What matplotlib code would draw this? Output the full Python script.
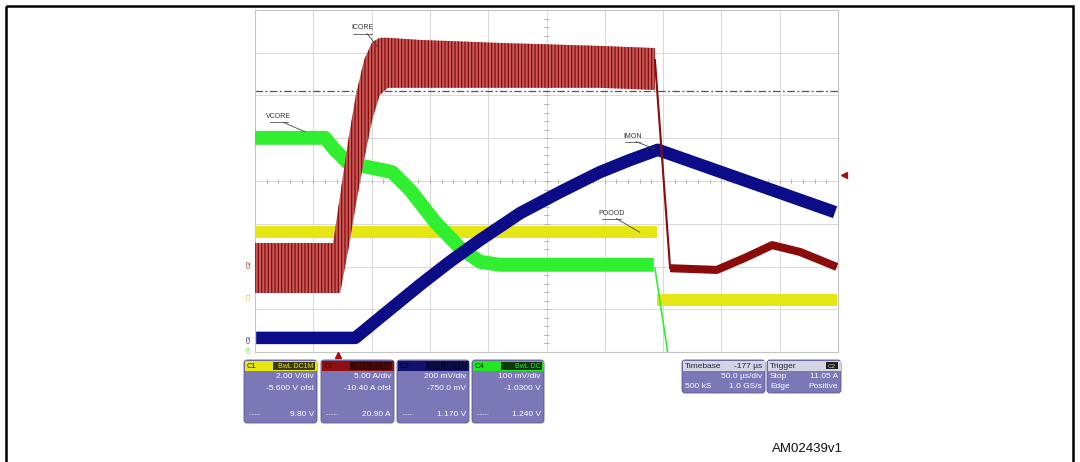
import numpy as np
import matplotlib.pyplot as plt
from matplotlib.patches import FancyBboxPatch, Rectangle

plt.rcParams['font.family'] = ['Liberation Sans', 'DejaVu Sans']
plt.rcParams['hatch.linewidth'] = 0.9

W, H = 1080, 462

# traces in screen divisions (10 x 8 grid)
icore_x = [0, 1.34, 1.46, 1.60, 1.73, 1.87, 2.01, 2.14, 2.28, 2.83, 4.20, 5.92, 6.86]
icore_hi = [2.55, 2.55, 3.67, 4.96, 6.01, 6.83, 7.25, 7.35, 7.35, 7.30, 7.23, 7.16, 7.11]
icore_lo = [1.38, 1.38, 1.38, 2.39, 3.44, 4.49, 5.43, 6.01, 6.18, 6.18, 6.18, 6.18, 6.13]
icore_fall_x = [6.86, 7.12]
icore_fall_y = [6.83, 1.96]
icore_tail_x = [7.12, 7.92, 8.40, 8.87, 9.35, 9.98]
icore_tail_y = [1.96, 1.92, 2.20, 2.50, 2.34, 1.99]

vcore_x = [0, 1.20, 1.37, 1.60, 2.35, 2.66, 3.09, 3.52, 3.86, 4.20, 6.84]
vcore_y = [5.01, 5.01, 4.73, 4.42, 4.21, 3.79, 3.04, 2.43, 2.11, 2.04, 2.04]
vcore_fall_x = [6.86, 7.10]
vcore_fall_y = [1.96, -0.2]

pgood_hi_x = [0, 6.90]
pgood_hi_y = [2.81, 2.81]
pgood_lo_x = [6.90, 9.98]
pgood_lo_y = [1.22, 1.22]

imon_x = [0.02, 1.72, 2.14, 2.83, 3.34, 3.86, 4.55, 5.23, 5.92, 6.43, 6.91, 9.95]
imon_y = [0.33, 0.33, 0.80, 1.57, 2.11, 2.62, 3.25, 3.74, 4.21, 4.49, 4.73, 3.27]

trig_level = 6.11
trig_pos = 1.42

# trace labels: (text, label position, leader end)
labels = [('ICORE', (1.84, 7.58), (2.11, 7.13)),
          ('VCORE', (0.41, 5.50), (0.86, 5.15)),
          ('IMON', (6.47, 5.05), (6.86, 4.75)),
          ('POOOD', (6.12, 3.25), (6.60, 2.80))]

# channel info boxes
ch_names = ['C1', 'C2', 'C3', 'C4']
ch_badges = ['BwL DC1M', 'BwL DC1M', 'BwL DC1M', 'BwL DC']
ch_scale = ['2.00 V/div', '5.00 A/div', '200 mV/div', '100 mV/div']
ch_offset = ['-5.600 V ofst', '-10.40 A ofst', '-750.0 mV', '-1.0300 V']
ch_value = ['9.80 V', '20.90 A', '1.170 V', '1.240 V']

red = '#8b0a0a'
green = '#30ee30'
yellow = '#e6e614'
navy = '#0c0c88'
lav = '#7c78b8'

fig = plt.figure(figsize=(W / 100, H / 100), dpi=100)

# overlay axes in pixel coordinates
ov = fig.add_axes([0, 0, 1, 1])
ov.set_xlim(0, W)
ov.set_ylim(H, 0)
ov.axis('off')
ov.add_patch(Rectangle((6, 6), 1067, 480, fill=False, ec='black', lw=1.8))


def chan_box(x0, x1, head, badge, name, badge_txt, name_col, badge_col, scale, ofst, val):
    y0, y1 = 360, 423
    ov.add_patch(FancyBboxPatch((x0, y0), x1 - x0, y1 - y0, boxstyle='round,pad=0,rounding_size=3',
                                fc=lav, ec='#5a5690', lw=0.6))
    ov.add_patch(Rectangle((x0 + 0.5, y0 + 0.5), x1 - x0 - 1, 10, fc=head, ec='none'))
    ov.add_patch(Rectangle((x0 + 29, y0 + 1.5), x1 - x0 - 31, 8, fc=badge, ec='none'))
    ov.text(x0 + 3, y0 + 6, name, fontsize=5.5, color=name_col, va='center')
    ov.text(x1 - 3, y0 + 6, badge_txt, fontsize=5, color=badge_col, va='center', ha='right')
    ov.text(x1 - 3, 377, scale, fontsize=6, color='white', ha='right', va='center')
    ov.text(x1 - 3, 388, ofst, fontsize=6, color='white', ha='right', va='center')
    ov.text(x1 - 3, 414, val, fontsize=6, color='white', ha='right', va='center')
    ov.plot([x0 + 5, x0 + 16], [414, 414], color='#c8c8e8', lw=0.6, ls=(0, (2, 1)))


box_x = [(244, 317), (321, 394), (397, 469), (472, 544)]
heads = [yellow, '#8e1010', '#12126e', '#22e822']
badges = ['#3c3c00', '#3a0606', '#07073a', '#0a3a0a']
name_cols = ['#202000', '#5a0000', '#05052a', '#003000']
badge_cols = ['#e6e614', '#5a1010', '#15155a', '#40e040']
for i in range(4):
    chan_box(box_x[i][0], box_x[i][1], heads[i], badges[i], ch_names[i], ch_badges[i],
             name_cols[i], badge_cols[i], ch_scale[i], ch_offset[i], ch_value[i])


def info_box(x0, x1, title, right_txt, rows, badge=False):
    y0, y1 = 360, 393
    ov.add_patch(FancyBboxPatch((x0, y0), x1 - x0, y1 - y0, boxstyle='round,pad=0,rounding_size=3',
                                fc=lav, ec='#5a5690', lw=0.6))
    ov.add_patch(Rectangle((x0 + 0.5, y0 + 0.5), x1 - x0 - 1, 10, fc='#d4d4e2', ec='none'))
    ov.text(x0 + 3, y0 + 6, title, fontsize=6, color='#222244', va='center')
    if badge:
        ov.add_patch(Rectangle((x1 - 15, y0 + 2), 12, 7, fc='#202020', ec='none'))
        ov.text(x1 - 9, y0 + 6, right_txt, fontsize=4.5, color='#cccccc', va='center', ha='center')
    else:
        ov.text(x1 - 3, y0 + 6, right_txt, fontsize=6, color='#222244', va='center', ha='right')
    for (lt, rt), yy in zip(rows, [377, 387]):
        ov.text(x0 + 3, yy, lt, fontsize=6, color='white', va='center')
        ov.text(x1 - 3, yy, rt, fontsize=6, color='white', va='center', ha='right')


info_box(682, 765, 'Timebase', '-177 µs', [('', '50.0 µs/div'), ('500 kS', '1.0 GS/s')])
info_box(767, 841, 'Trigger', 'C2', [('Stop', '11.05 A'), ('Edge', 'Positive')], badge=True)

ov.text(807, 449, 'AM02439v1', fontsize=9.5, ha='center', va='center', color='#111111')

# scope screen
ax = fig.add_axes([255 / W, 1 - 352 / H, 583 / W, 342 / H])
ax.set_xlim(0, 10)
ax.set_ylim(0, 8)
ax.set_xticks(range(11))
ax.set_yticks(range(9))
ax.tick_params(length=0, labelbottom=False, labelleft=False)
ax.grid(True, color='#d8d8d8', lw=0.7)
for s in ax.spines.values():
    s.set_color('#c4c4c4')
    s.set_linewidth(0.8)
for t in np.arange(0, 10.01, 0.2):
    ax.plot([t, t], [3.95, 4.05], color='#b0b0b0', lw=0.6)
for t in np.arange(0, 8.01, 0.2):
    ax.plot([4.95, 5.05], [t, t], color='#b0b0b0', lw=0.6)
ax.axhline(trig_level, color='#555555', lw=0.9, ls=(0, (6, 2, 1.5, 2)))

ax.plot(pgood_hi_x, pgood_hi_y, color=yellow, lw=8.6, solid_capstyle='butt', zorder=3)
ax.plot(pgood_lo_x, pgood_lo_y, color=yellow, lw=8.6, solid_capstyle='butt', zorder=3)
ax.plot(vcore_x, vcore_y, color=green, lw=10, solid_capstyle='butt', solid_joinstyle='round', zorder=4)
ax.plot(vcore_fall_x, vcore_fall_y, color=green, lw=1.2, zorder=4)
ax.plot(imon_x, imon_y, color=navy, lw=9, solid_capstyle='butt', solid_joinstyle='round', zorder=5)
ax.fill_between(icore_x, icore_lo, icore_hi, facecolor='#c45a5a', edgecolor=red, hatch='|||||', lw=0, zorder=6)
ax.plot(icore_fall_x, icore_fall_y, color=red, lw=1.5, zorder=6)
ax.plot(icore_tail_x, icore_tail_y, color=red, lw=5.8, solid_capstyle='butt', solid_joinstyle='round', zorder=6)

# trace labels, underlined, with leader lines
for txt, (tx, ty), (ex, ey) in labels:
    ax.text(tx, ty, txt, fontsize=5, color='#333333', ha='center', va='center', zorder=8)
    half = 0.03 * len(txt) + 0.01
    ax.plot([tx - half, tx + half], [ty - 0.13, ty - 0.13], color='#333333', lw=0.5, zorder=8)
    ax.plot([tx + half * 0.5, ex], [ty - 0.13, ey], color='#444444', lw=0.6, zorder=8)

# channel ground markers and trigger markers
ax.text(-0.1, 2.05, 'C2', fontsize=4.5, color=red, rotation=90, ha='center', va='center', clip_on=False)
ax.text(-0.1, 1.3, 'C1', fontsize=4.5, color='#c8c800', rotation=90, ha='center', va='center', clip_on=False)
ax.text(-0.1, 0.3, 'C3', fontsize=4.5, color=navy, rotation=90, ha='center', va='center', clip_on=False)
ax.text(-0.1, 0.05, 'C4', fontsize=4, color=green, rotation=90, ha='center', va='center', clip_on=False)
ax.plot([trig_pos], [-0.08], marker='^', color='#a01010', ms=4, clip_on=False, zorder=7)
ax.plot([10.1], [4.14], marker='<', color='#a01010', ms=4, clip_on=False, zorder=7)

fig.savefig('out.png', dpi=100)
